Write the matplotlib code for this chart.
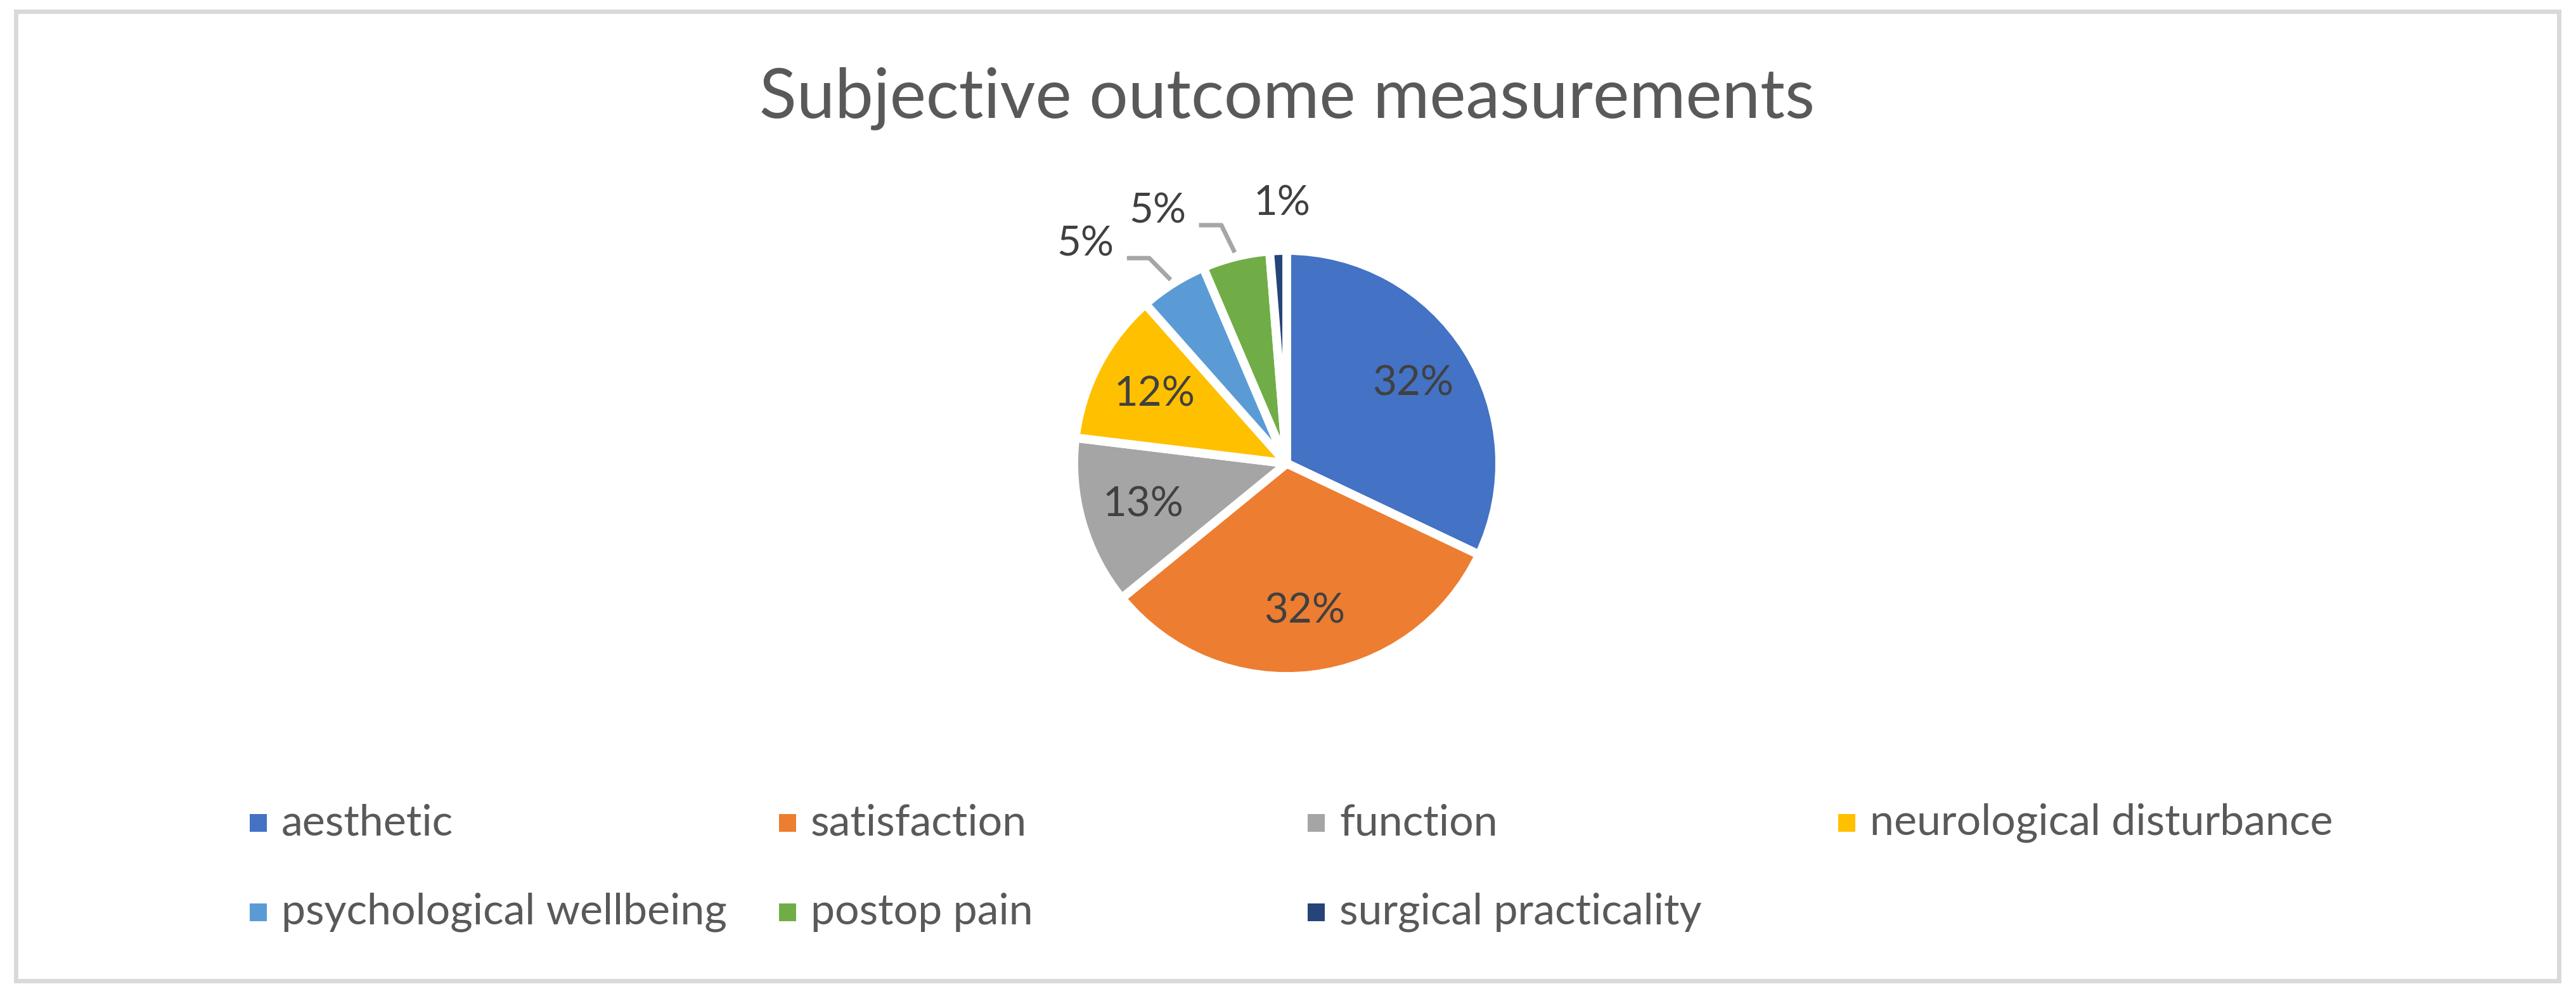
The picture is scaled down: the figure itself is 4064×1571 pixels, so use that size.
import numpy as np
import matplotlib
matplotlib.use('Agg')
import matplotlib.pyplot as plt
from matplotlib.patches import Rectangle

plt.rcParams['font.family'] = ['Lato', 'DejaVu Sans']

# data
categories = ['aesthetic', 'satisfaction', 'function', 'neurological disturbance',
              'psychological wellbeing', 'postop pain', 'surgical practicality']
counts = [25, 25, 10, 9, 4, 4, 1]
colors = ['#4472C4', '#ED7D31', '#A5A5A5', '#FFC000', '#5B9BD5', '#70AD47', '#264478']
title = 'Subjective outcome measurements'

W, H = 4064, 1571
fig = plt.figure(figsize=(W / 100, H / 100), dpi=100)

# chart border
fig.add_artist(Rectangle((24.5 / W, 1 - 1546.5 / H), 4012 / W, 1529 / H,
                         transform=fig.transFigure, fill=False,
                         edgecolor='#D9D9D9', linewidth=5))

fig.text(2030 / W, 1 - 155 / H, title, ha='center', va='center',
         fontsize=78, color='#595959')

# pie axes: centre (2030, 731) px, radius 336 px
ax = fig.add_axes([1526 / W, 336 / H, 1008 / W, 1008 / H])
wedges, _ = ax.pie(counts, colors=colors, startangle=90, counterclock=False,
                   radius=1.0, wedgeprops=dict(edgecolor='white', linewidth=10,
                                               joinstyle='round'))
ax.set_xlim(-1.5, 1.5)
ax.set_ylim(-1.5, 1.5)
ax.axis('off')

total = sum(counts)
small = {4: (1.40, 131, True), 5: (1.32, 114, True), 6: (1.22, 91, False)}
for i, w in enumerate(wedges):
    pct = '{:.0f}%'.format(100 * counts[i] / total)
    mid = np.deg2rad((w.theta1 + w.theta2) / 2)
    if i not in small:
        ax.text(0.70 * np.cos(mid), 0.70 * np.sin(mid), pct, ha='center', va='center',
                fontsize=47, color='#404040')
        continue
    r, ang, leader = small[i]
    if leader:
        x0, y0 = 1.02 * np.cos(mid), 1.02 * np.sin(mid)
        x1, y1 = 1.16 * np.cos(mid + np.deg2rad(1.5)), 1.16 * np.sin(mid + np.deg2rad(1.5))
        x2 = x1 - 0.105
        ax.plot([x0, x1, x2], [y0, y1, y1], color='#A6A6A6', linewidth=5,
                solid_capstyle='butt', clip_on=False)
        ax.text(x2 - 0.06, y1 + 0.065, pct, ha='right', va='center',
                fontsize=47, color='#404040')
    else:
        a = np.deg2rad(ang)
        ax.text(r * np.cos(a), r * np.sin(a), pct, ha='center', va='center',
                fontsize=47, color='#404040')

# legend laid out as in the original: 4 columns, row-major
col_x = [394, 1229, 2063, 2900]
row_y = [1298, 1439]
for i, (lab, c) in enumerate(zip(categories, colors)):
    x = col_x[i % 4]
    y = row_y[i // 4]
    fig.add_artist(Rectangle((x / W, 1 - (y + 14) / H), 27 / W, 28 / H,
                             transform=fig.transFigure, facecolor=c, edgecolor='none'))
    fig.text((x + 50) / W, 1 - y / H, lab, ha='left', va='center',
             fontsize=49, color='#595959')

fig.savefig('out.png', dpi=100, facecolor='white')
